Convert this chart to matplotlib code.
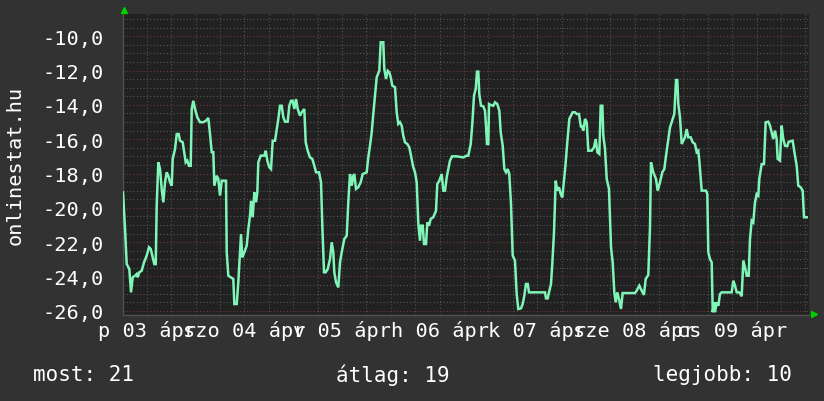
import matplotlib
matplotlib.use("Agg")
import matplotlib.pyplot as plt
from matplotlib.ticker import MultipleLocator, FuncFormatter
import matplotlib.transforms as mtransforms

# time in hours since 2020-04-03 00:00, temperature values
hours = [6.11, 6.61, 7.02, 7.66, 8.08, 8.50, 9.07, 9.48, 9.73, 10.12, 10.71, 11.28, 11.94, 12.51, 12.93,
         13.32, 13.81, 14.16, 14.40, 14.80, 15.22, 15.63, 16.03, 16.45, 16.87, 17.26, 17.68, 18.10, 18.34,
         18.91, 19.33, 19.82, 20.14, 20.80, 21.12, 21.54, 21.93, 22.35, 22.77, 23.02, 23.41, 23.83, 24.39,
         25.06, 25.87, 26.53, 27.10, 27.52, 27.94, 28.33, 28.58, 29.17, 29.56, 29.98, 30.40, 31.45, 31.63,
         32.02, 33.25, 33.50, 34.09, 34.48, 34.90, 35.15, 35.46, 35.96, 36.55, 36.94, 37.36, 37.61, 38.02,
         38.42, 38.84, 39.16, 39.40, 39.99, 40.88, 41.23, 41.62, 42.11, 42.53, 42.94, 43.51, 43.93, 44.32,
         44.74, 45.16, 45.55, 45.97, 46.63, 47.03, 47.45, 47.86, 48.26, 48.68, 49.09, 49.66, 50.08, 50.72,
         51.06, 51.55, 52.12, 52.69, 53.18, 53.60, 54.34, 54.83, 55.15, 55.57, 55.98, 56.48, 57.04, 57.46,
         57.85, 58.10, 58.52, 59.08, 59.50, 59.92, 60.56, 61.15, 61.54, 61.96, 62.38, 62.77, 63.02, 63.44,
         64.00, 64.59, 65.09, 66.07, 66.46, 66.88, 67.30, 67.69, 68.11, 68.53, 69.17, 69.51, 70.15, 70.40,
         70.82, 71.24, 71.63, 71.98, 72.37, 73.03, 73.45, 73.84, 74.26, 74.68, 75.07, 75.49, 76.06, 76.55,
         76.97, 77.54, 77.95, 78.37, 78.77, 79.18, 79.43, 79.85, 80.17, 80.66, 80.98, 81.40, 81.82, 82.46,
         83.12, 83.44, 83.93, 84.52, 84.92, 85.33, 85.75, 86.15, 86.56, 87.06, 88.21, 89.84, 90.67, 91.07,
         91.66, 92.05, 92.47, 92.89, 93.21, 93.53, 93.77, 94.19, 94.76, 95.17, 95.42, 95.67, 95.99, 96.16,
         96.65, 97.22, 97.64, 98.20, 98.70, 99.04, 99.53, 99.93, 100.34, 100.76, 101.15, 101.57, 101.99,
         102.55, 102.97, 103.37, 104.03, 104.45, 104.84, 105.26, 105.68, 106.00, 109.94, 110.18, 110.60,
         110.92, 111.41, 111.73, 112.15, 112.57, 112.96, 113.38, 113.80, 114.19, 114.61, 115.03, 115.42,
         115.92, 116.33, 116.75, 117.32, 117.73, 118.30, 118.79, 118.96, 119.36, 119.78, 120.20, 120.59,
         121.43, 121.99, 122.41, 122.81, 123.30, 123.64, 124.04, 124.28, 124.70, 125.12, 125.68, 126.18,
         126.59, 126.99, 127.33, 127.72, 128.14, 128.63, 129.05, 132.08, 132.50, 133.14, 133.73, 134.28,
         134.71, 135.35, 135.77, 136.01, 136.58, 137.25, 137.66, 138.23, 138.80, 139.29, 139.71, 140.27,
         140.69, 141.35, 141.75, 142.17, 142.49, 142.73, 143.15, 143.57, 143.96, 144.38, 144.80, 145.19,
         145.78, 146.27, 146.84, 147.26, 147.65, 147.90, 148.49, 149.55, 149.87, 150.11, 150.53, 150.95,
         151.20, 151.52, 151.77, 152.18, 152.58, 152.99, 153.41, 155.87, 156.27, 156.69, 157.10, 157.74,
         158.33, 158.73, 159.15, 159.56, 160.05, 160.37, 160.79, 161.18, 161.60, 162.02, 162.41, 162.66,
         163.25, 163.81, 164.23, 164.87, 165.29, 165.70, 166.10, 166.52, 166.93, 167.18, 167.74, 168.16,
         168.56, 168.98, 169.54, 169.89, 170.87, 171.44, 171.86, 172.25, 172.84, 173.34, 173.66, 174.32]

temps = [-19.10, -21.24, -23.28, -23.57, -24.93, -24.05, -23.96, -23.86, -24.05, -23.76, -23.67, -23.18,
         -22.79, -22.30, -22.40, -22.79, -23.28, -23.28, -19.88, -17.35, -17.74, -18.90, -19.68, -18.51,
         -17.93, -18.13, -18.51, -18.71, -17.15, -16.57, -15.70, -15.70, -16.09, -16.18, -16.67, -17.35,
         -17.25, -17.55, -17.55, -14.24, -13.76, -14.24, -14.72, -15.01, -15.01, -14.92, -14.76, -15.70,
         -16.76, -16.76, -18.71, -18.13, -18.32, -19.29, -18.42, -18.42, -22.59, -23.96, -24.15, -25.61,
         -25.61, -24.34, -22.59, -21.53, -22.89, -22.59, -22.21, -21.24, -20.46, -19.59, -20.55, -19.10,
         -19.68, -19.10, -17.35, -16.96, -16.96, -16.67, -17.25, -17.64, -17.74, -16.09, -16.09, -15.41,
         -14.82, -14.05, -14.05, -14.72, -14.98, -14.98, -14.05, -13.76, -13.76, -14.24, -13.66, -14.24,
         -14.63, -14.43, -14.24, -16.18, -16.67, -17.06, -17.15, -17.55, -17.93, -17.93, -18.51, -21.04,
         -23.76, -23.76, -23.57, -22.99, -22.01, -22.59, -23.76, -24.34, -24.64, -23.18, -22.59, -21.82,
         -21.63, -19.68, -18.03, -18.71, -18.13, -18.03, -18.90, -18.80, -18.51, -18.03, -17.93, -17.06,
         -16.38, -15.60, -14.53, -13.46, -12.39, -12.01, -10.35, -10.35, -11.91, -12.49, -12.01, -12.10,
         -12.39, -12.88, -12.97, -14.43, -15.11, -15.01, -15.21, -15.80, -16.18, -16.28, -16.47, -16.96,
         -17.64, -17.93, -18.51, -20.94, -21.92, -21.04, -21.04, -22.11, -22.11, -20.85, -21.04, -20.65,
         -20.55, -20.17, -18.61, -18.42, -18.03, -19.00, -19.00, -18.22, -17.74, -17.25, -17.00, -17.00,
         -17.06, -16.96, -16.96, -16.28, -15.11, -13.46, -13.07, -12.06, -12.06, -13.36, -14.05, -14.08,
         -14.34, -15.21, -16.28, -16.28, -13.95, -14.01, -14.05, -13.85, -13.95, -14.34, -15.60, -16.38,
         -17.74, -17.93, -17.74, -18.03, -19.78, -22.79, -23.08, -25.03, -25.90, -25.86, -25.61, -25.13,
         -24.44, -24.44, -24.93, -24.93, -25.28, -25.28, -24.93, -24.44, -23.28, -21.43, -18.42, -19.00,
         -18.80, -19.20, -19.39, -18.42, -17.35, -16.18, -14.82, -14.63, -14.43, -14.43, -14.53, -14.53,
         -15.31, -15.21, -15.50, -14.82, -15.01, -16.67, -16.67, -16.47, -15.99, -16.76, -16.86, -14.05,
         -14.05, -15.80, -16.57, -18.32, -18.90, -22.30, -23.18, -24.93, -25.51, -24.93, -25.32, -25.90,
         -24.97, -24.97, -24.83, -24.54, -24.83, -25.08, -24.15, -23.92, -21.14, -17.35, -17.93, -18.32,
         -19.00, -18.51, -17.93, -17.74, -16.96, -15.99, -15.31, -14.82, -14.53, -12.55, -12.55, -13.95,
         -14.72, -16.28, -16.09, -15.89, -15.41, -15.89, -15.89, -16.18, -16.28, -16.76, -16.67, -17.25,
         -19.00, -19.00, -19.20, -22.59, -22.99, -23.18, -26.09, -25.51, -26.09, -25.51, -25.71, -25.03,
         -24.93, -24.93, -24.25, -24.54, -24.93, -24.93, -25.16, -23.08, -23.47, -23.96, -23.96, -21.82,
         -20.75, -20.85, -19.68, -19.20, -19.29, -18.32, -17.45, -17.45, -15.01, -14.98, -15.21, -15.60,
         -15.99, -15.50, -15.99, -17.15, -17.25, -15.21, -15.99, -16.38, -16.41, -16.15, -16.09, -16.96,
         -17.55, -18.71, -18.80, -19.00, -20.55, -20.55]

day_labels = ["p 03 ápr", "szo 04 ápr", "v 05 ápr", "h 06 ápr", "k 07 ápr", "sze 08 ápr", "cs 09 ápr"]
day_label_hours = [12, 36, 60, 84, 108, 132, 156]
y_label = "onlinestat.hu"
footer = ["most: 21", "átlag: 19", "legjobb: 10"]

BG = "#323232"
CANVAS = "#212121"
LINE = "#80f5b8"
MINOR = "#555555"
MAJOR = "#703a3a"
FONT = "DejaVu Sans Mono"
FS = 14.6

W, H = 824, 402
fig = plt.figure(figsize=(W / 100, H / 100), dpi=100, facecolor=BG)
L, R, T, B = 123, 809, 15, 316
ax = fig.add_axes([L / W, 1 - B / H, (R - L) / W, (B - T) / H], facecolor=CANVAS)

ax.plot(hours, temps, color=LINE, lw=1.8, zorder=5, solid_joinstyle="miter")

ax.set_xlim(6.11, 174.89)
ax.set_ylim(-26.25, -8.70)

# grid
ax.xaxis.set_major_locator(MultipleLocator(24))
ax.xaxis.set_minor_locator(MultipleLocator(6))
ax.yaxis.set_major_locator(MultipleLocator(2))
ax.yaxis.set_minor_locator(MultipleLocator(0.5))
ax.grid(which="minor", color=MINOR, ls=(0, (1, 2)), lw=0.8)
ax.grid(which="major", color=MAJOR, ls=(0, (1, 2)), lw=0.8)
ax.set_axisbelow(True)

ax.tick_params(which="both", length=0)
ax.set_xticklabels([])
ax.yaxis.set_major_formatter(FuncFormatter(lambda v, p: f"{v:.1f}".replace(".", ",")))
ax.tick_params(axis="y", colors="white", labelsize=FS, pad=14)
for lab in ax.get_yticklabels():
    lab.set_fontfamily(FONT)

trans = mtransforms.blended_transform_factory(ax.transData, ax.transAxes)
for h, lab in zip(day_label_hours, day_labels):
    ax.text(h, -0.05, lab, transform=trans, ha="center", va="center", color="white",
            fontsize=FS, family=FONT, clip_on=False)

for side in ["top", "right"]:
    ax.spines[side].set_visible(False)
ax.spines["left"].set_color("#505050")
ax.spines["bottom"].set_color("#505050")
ax.spines["left"].set_linewidth(1.0)
ax.spines["bottom"].set_linewidth(1.0)

# axis arrows
up = mtransforms.offset_copy(ax.transAxes, fig=fig, x=1.0, y=4.5, units="dots")
rt = mtransforms.offset_copy(ax.transAxes, fig=fig, x=4.5, y=1.5, units="dots")
ax.plot([0], [1.0], marker="^", color="#00d000", ms=5, transform=up, clip_on=False, zorder=6)
ax.plot([1.0], [0], marker=">", color="#00d000", ms=5, transform=rt, clip_on=False, zorder=6)

fig.text(15 / W, 1 - 165.5 / H, y_label, rotation=90, ha="center", va="center",
         color="white", fontsize=FS, family=FONT)

fig.text(33 / W, 1 - 375 / H, footer[0], ha="left", va="center", color="white", fontsize=15, family=FONT)
fig.text(336 / W, 1 - 375 / H, footer[1], ha="left", va="center", color="white", fontsize=15, family=FONT)
fig.text(792 / W, 1 - 375 / H, footer[2], ha="right", va="center", color="white", fontsize=15, family=FONT)

fig.savefig("out.png", dpi=100, facecolor=BG)
